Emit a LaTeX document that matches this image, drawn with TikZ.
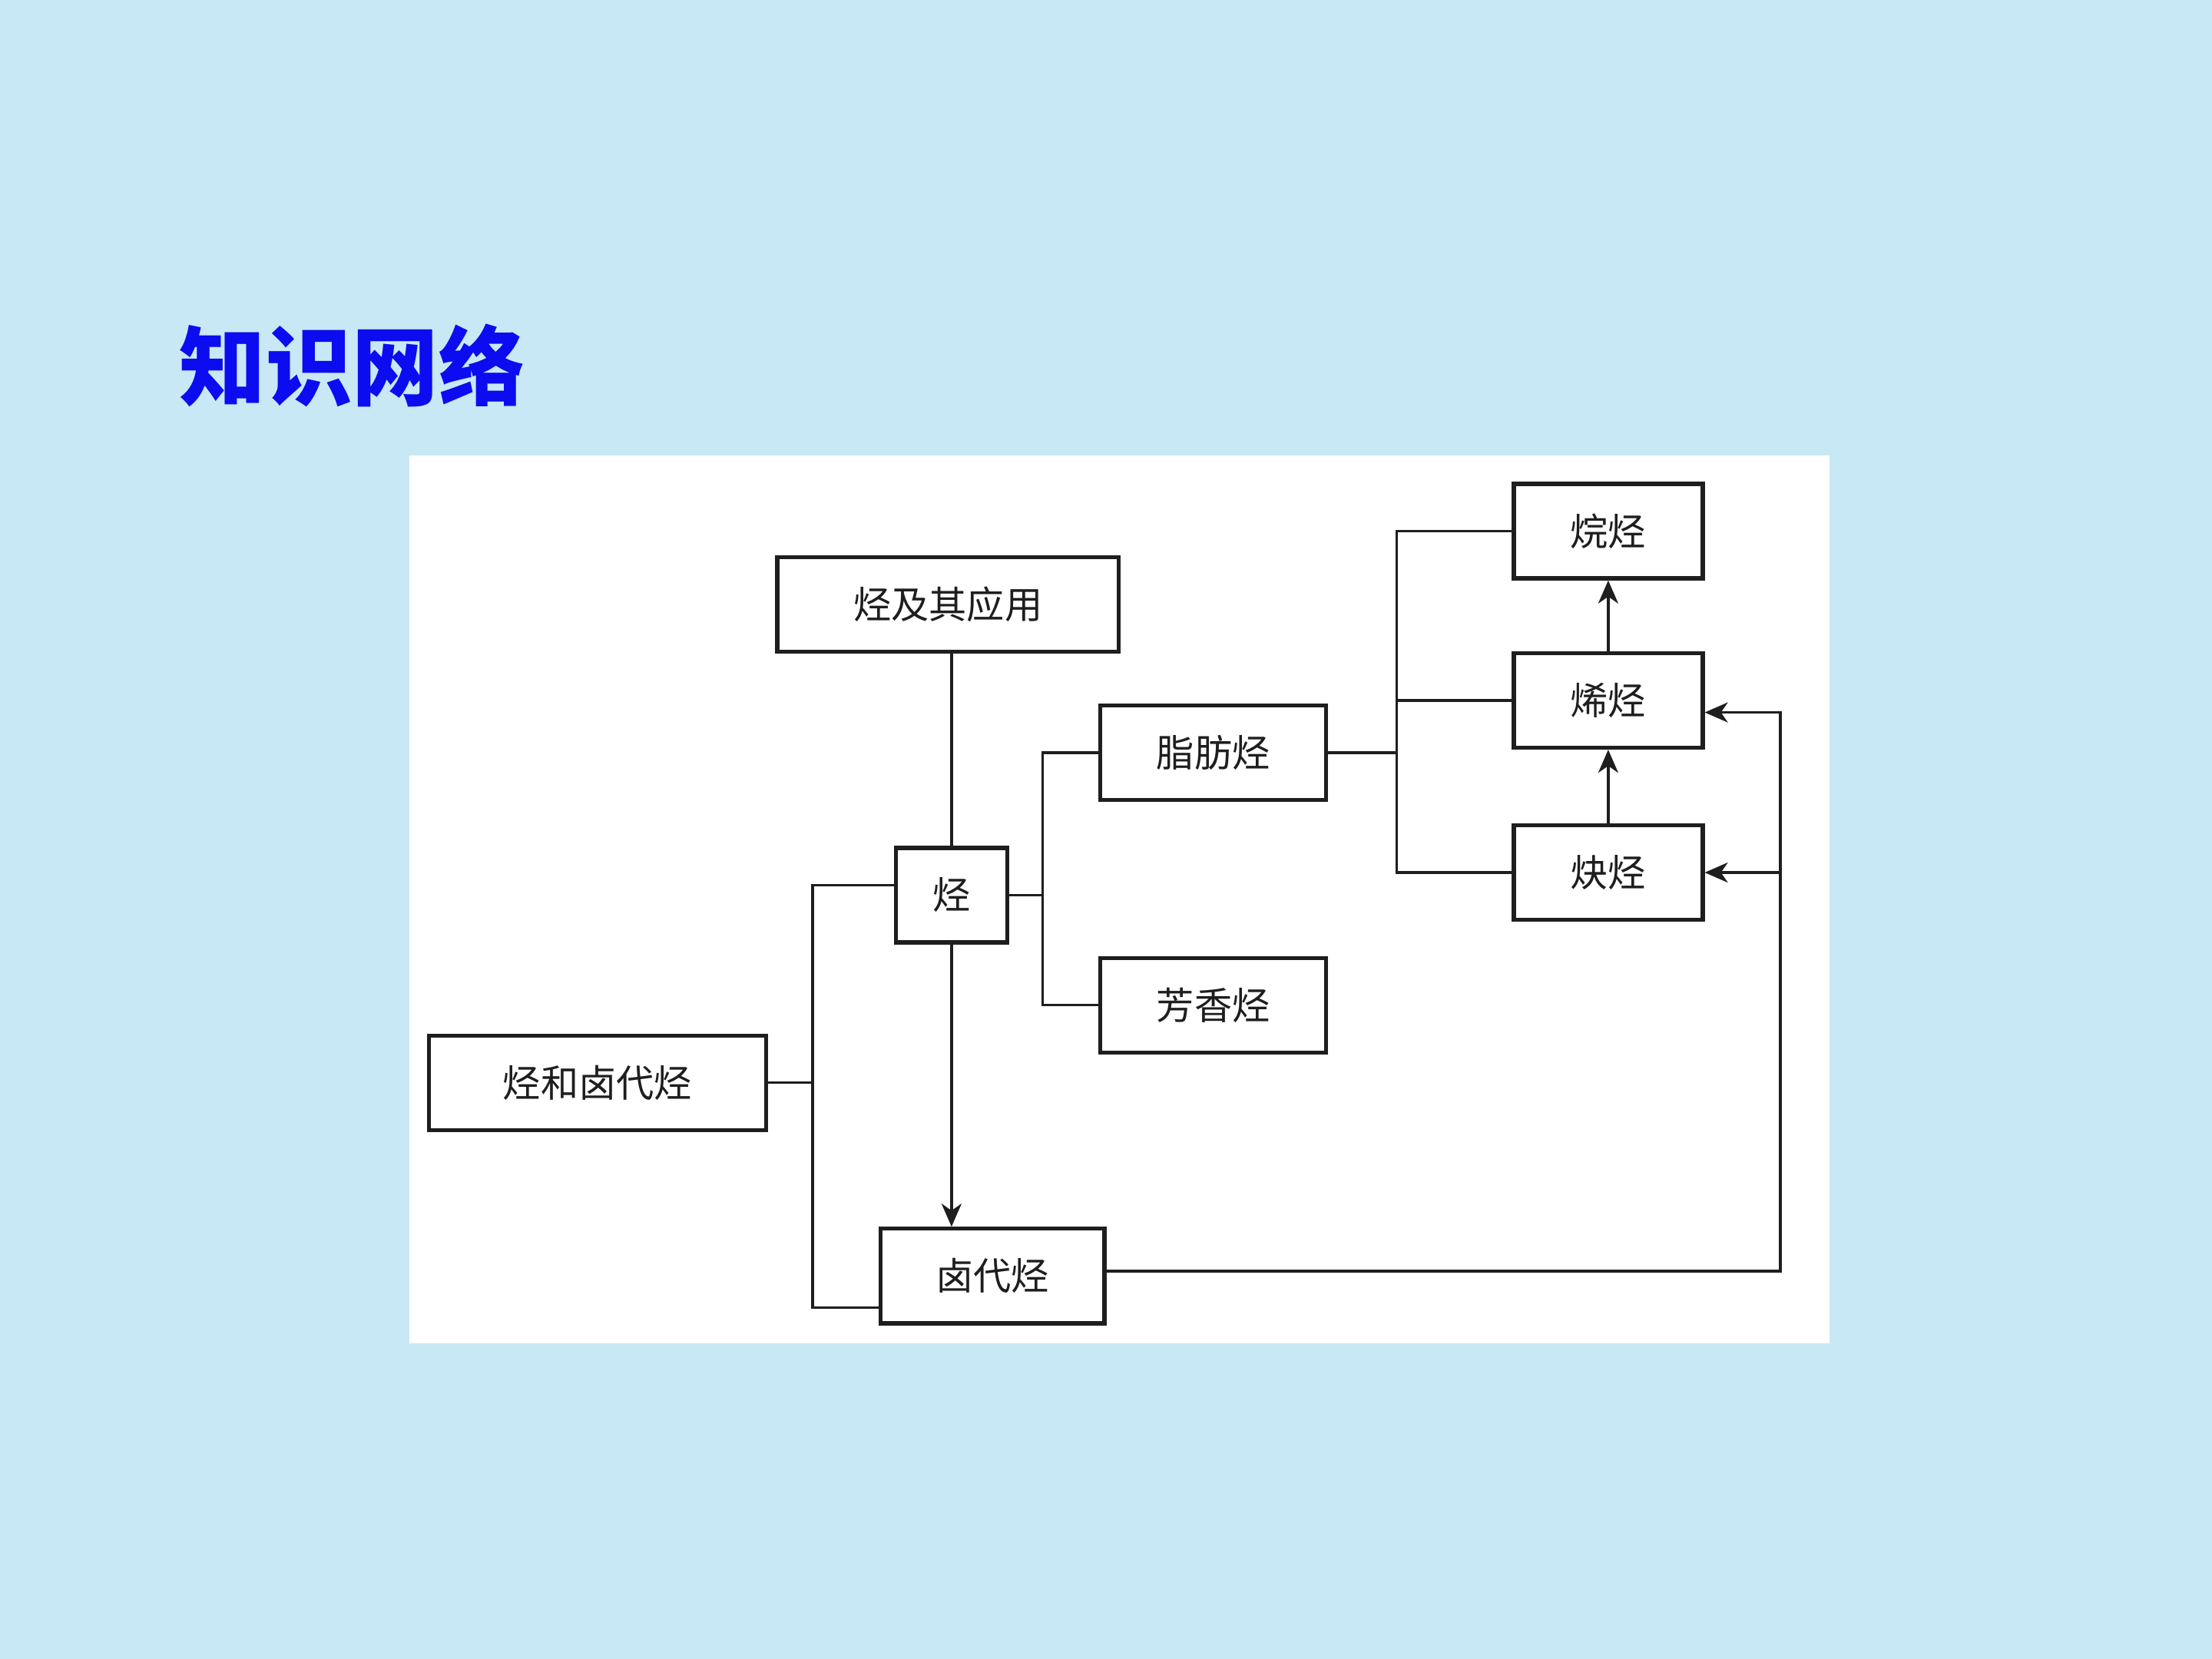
\documentclass[tikz,border=0pt]{standalone}
\usepackage{fontspec}
\newfontfamily\cjk{Noto Sans CJK SC}
\usetikzlibrary{arrows.meta,calc}
\definecolor{bgblue}{RGB}{200,232,245}
\definecolor{titleblue}{RGB}{12,12,240}
\definecolor{ink}{RGB}{30,30,30}
\tikzset{
  box/.style={draw=ink, line width=1.5pt, fill=white, minimum height=1.231cm, inner sep=0pt,
    font=\cjk\fontsize{14pt}{16pt}\selectfont, text=ink},
  link/.style={draw=ink, line width=1pt},
  arr/.style={link, -{Stealth[length=3mm,width=2.6mm,inset=0.9mm]}}
}
\begin{document}
\begin{tikzpicture}[x=0.018367cm, y=-0.018367cm]
\useasboundingbox (0,0) rectangle (1568,1176);
\fill[bgblue] (0,0) rectangle (1568,1176);
\fill[white] (290,323) rectangle (1297,952);
\node[anchor=west, inner sep=0pt, text=titleblue, font=\cjk\bfseries\fontsize{32pt}{36pt}\selectfont] (title) at (127,259) {知识网络};

\node[box, minimum width=4.445cm] (top) at (672,428.5) {烃及其应用};
\node[box, minimum width=1.451cm] (ying) at (674.5,634.5) {烃};
\node[box, minimum width=2.939cm] (zhi) at (860,533.5) {脂肪烃};
\node[box, minimum width=2.939cm] (fang) at (860,712.5) {芳香烃};
\node[box, minimum width=4.390cm] (he) at (423.5,767.5) {烃和卤代烃};
\node[box, minimum width=2.920cm] (lu) at (703.5,904.5) {卤代烃};
\node[box, minimum width=2.461cm] (wan) at (1140,376.5) {烷烃};
\node[box, minimum width=2.461cm] (xi) at (1140,496.5) {烯烃};
\node[box, minimum width=2.461cm] (que) at (1140,618.5) {炔烃};

\coordinate (b1) at (739,0);
\coordinate (b2) at (576,0);
\coordinate (b3) at (990,0);
\coordinate (b4) at (1262,0);
\coordinate (yl) at ($(ying.west)+(0,-7)$);
\coordinate (ll) at ($(lu.west)+(0,22.5)$);
\coordinate (lr) at ($(lu.east)+(0,-3.5)$);
\coordinate (xr) at ($(xi.east)+(0,8.5)$);

\draw[link] (ying.north |- top.south) -- (ying.north);
\draw[arr] (ying.south) -- (ying.south |- lu.north);

\draw[link] (ying.east) -- (ying.east -| b1);
\draw[link] (zhi.west) -- (zhi.west -| b1) -- (fang.west -| b1) -- (fang.west);

\draw[link] (he.east) -- (he.east -| b2);
\draw[link] (yl) -- (yl -| b2) -- (ll -| b2) -- (ll);

\draw[link] (zhi.east) -- (zhi.east -| b3);
\draw[link] (wan.west) -- (wan.west -| b3) -- (que.west -| b3) -- (que.west);
\draw[link] (xi.west) -- (xi.west -| b3);

\draw[arr] (xi.north) -- (wan.south);
\draw[arr] (que.north) -- (xi.south);

\draw[arr] (lr) -- (lr -| b4) -- (xr -| b4) -- (xr);
\draw[arr] (que.east -| b4) -- (que.east);
\end{tikzpicture}
\end{document}
